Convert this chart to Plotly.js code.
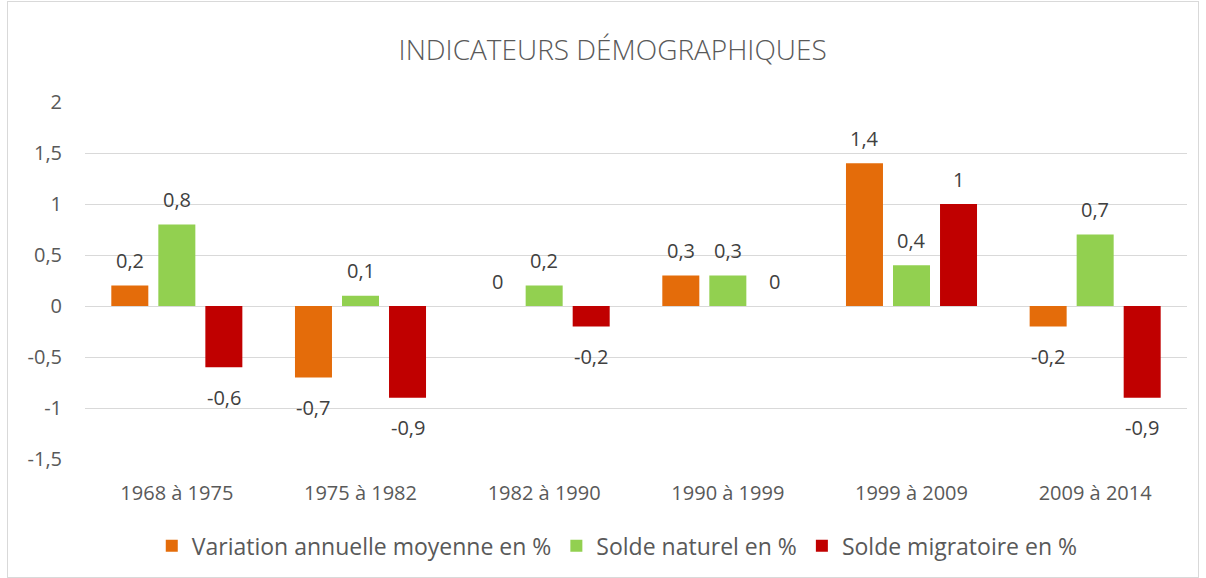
<!DOCTYPE html>
<html><head><meta charset="utf-8">
<script src="https://cdn.plot.ly/plotly-3.0.1.min.js"></script>
<style>
html,body{margin:0;padding:0;background:#fff;}
#wrap{position:relative;width:1206px;height:578px;}
#chart{width:1206px;height:578px;}
#frame{position:absolute;left:7px;top:1px;width:1190px;height:575px;border:1px solid #d9d9d9;pointer-events:none;}
</style></head>
<body>
<div id="wrap"><div id="chart"></div><div id="frame"></div></div>
<script>
const categories = ["1968 à 1975","1975 à 1982","1982 à 1990","1990 à 1999","1999 à 2009","2009 à 2014"];
const variation = [0.2, -0.7, 0, 0.3, 1.4, -0.2];
const naturel = [0.8, 0.1, 0.2, 0.3, 0.4, 0.7];
const migratoire = [-0.6, -0.9, -0.2, 0, 1, -0.9];
const seriesNames = ["Variation annuelle moyenne en %","Solde naturel en %","Solde migratoire en %"];
const colors = ["#E46C0A","#92D050","#C00000"];
const yTicks = [-1.5,-1,-0.5,0,0.5,1,1.5,2];
const yTickText = ["-1,5","-1","-0,5","0","0,5","1","1,5","2"];

const fmt = v => String(v).replace('.', ',');
const FONT = "'Open Sans', sans-serif";
const BARGAP = 0.232;
const allSeries = [variation, naturel, migratoire];
const traces = allSeries.map((vals, i) => ({
  type: 'bar', name: seriesNames[i], x: categories, y: vals,
  marker: {color: colors[i]},
  hoverinfo: 'x+y'
}));

// data labels as annotations placed relative to each bar (Excel-style offset)
const slot = (1 - BARGAP) / allSeries.length;
const annotations = [];
allSeries.forEach((vals, j) => {
  vals.forEach((v, i) => {
    annotations.push({
      xref: 'x', yref: 'y', x: i + (j - (allSeries.length - 1) / 2) * slot, y: v,
      text: fmt(v), showarrow: false, xanchor: 'center', yanchor: 'middle',
      yshift: v < 0 ? -30 : 25,
      font: {family: FONT, size: 20, color: '#404040'}
    });
  });
});

const layout = {
  width: 1206, height: 578,
  margin: {l: 85, r: 19, t: 102, b: 118},
  paper_bgcolor: '#fff', plot_bgcolor: '#fff',
  separators: ', ',
  title: {text: 'INDICATEURS DÉMOGRAPHIQUES', x: 0.508, xanchor: 'center', y: 0.913, yanchor: 'middle',
          font: {family: FONT, size: 28, color: '#595959', weight: 300}},
  barmode: 'group', bargap: BARGAP, bargroupgap: 0.213,
  xaxis: {type: 'category', showgrid: false, showline: false, ticks: '', ticklabelstandoff: 20,
          tickfont: {family: FONT, size: 20, color: '#595959'}, automargin: false},
  yaxis: {range: [-1.5, 2], tickvals: yTicks, ticktext: yTickText,
          showgrid: true, gridcolor: '#d9d9d9', gridwidth: 1,
          zeroline: true, zerolinecolor: '#d9d9d9', zerolinewidth: 1,
          showline: false, ticks: '', ticklabelstandoff: 22,
          tickfont: {family: FONT, size: 20, color: '#595959'}, automargin: false},
  annotations: annotations,
  showlegend: true,
  legend: {orientation: 'h', x: 0.483, xanchor: 'center', y: -0.24, yanchor: 'middle',
           font: {family: FONT, size: 23, color: '#595959'}, itemwidth: 30, traceorder: 'normal'}
};
Plotly.newPlot('chart', traces, layout, {displayModeBar: false, staticPlot: true});
</script>
</body></html>
